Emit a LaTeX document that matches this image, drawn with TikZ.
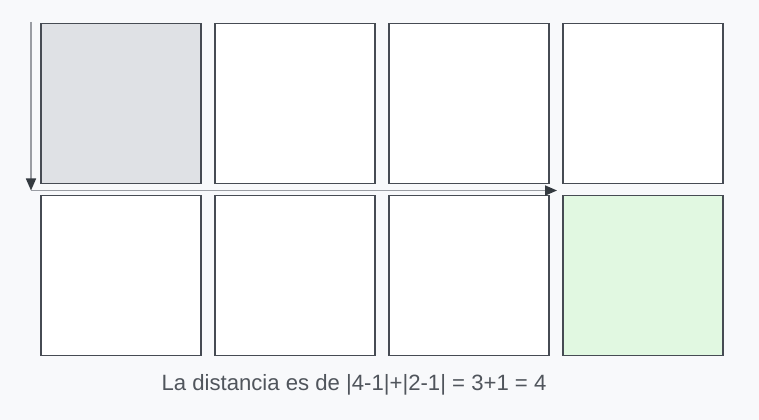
\documentclass[tikz,border=0pt]{standalone}
\usepackage{fontspec}
\setmainfont{Liberation Sans}
\usepackage{tikz}
\usetikzlibrary{positioning,arrows.meta}
\definecolor{bgcol}{HTML}{F8F9FB}
\definecolor{edgecol}{HTML}{464B53}
\definecolor{startcol}{HTML}{DFE1E5}
\definecolor{goalcol}{HTML}{E1F8E1}
\definecolor{pathcol}{HTML}{9A9DA3}
\definecolor{tipcol}{HTML}{343A40}
\definecolor{txtcol}{HTML}{50555C}

\begin{document}
\begin{tikzpicture}[x=0.75pt,y=-0.75pt,node distance=9pt and 10.5pt,
                    cell/.style={draw=edgecol,line width=0.8pt,fill=white,
                      minimum size=120pt,inner sep=0pt,outer sep=0pt},
                    walk/.style={draw=pathcol,line width=1.2pt,
                      -{Triangle[length=9pt,width=7.5pt,color=tipcol]}}]
  \fill[bgcol] (0,0) rectangle (759,420);
  \useasboundingbox (0,0) rectangle (759,420);

  % first row
  \node[cell,fill=startcol] (c11) at (121,103.5) {};
  \node[cell] (c12) [right=of c11] {};
  \node[cell] (c13) [right=of c12] {};
  \node[cell] (c14) [right=of c13] {};
  % second row
  \node[cell] (c21) [below=of c11] {};
  \node[cell] (c22) [right=of c21] {};
  \node[cell] (c23) [right=of c22] {};
  \node[cell,fill=goalcol] (c24) [right=of c23] {};

  \coordinate (top) at (31,22);
  \coordinate (turn) at (31,190.5);
  \coordinate (stop) at (557,190.5);
  \draw[walk] (top) -- (turn);
  \draw[walk] (turn) -- (stop);

  \node[text=txtcol,font=\fontsize{16.6pt}{20pt}\selectfont] (msg) at (354,385)
    {La distancia es de |4-1|+|2-1| = 3+1 = 4};
\end{tikzpicture}
\end{document}
